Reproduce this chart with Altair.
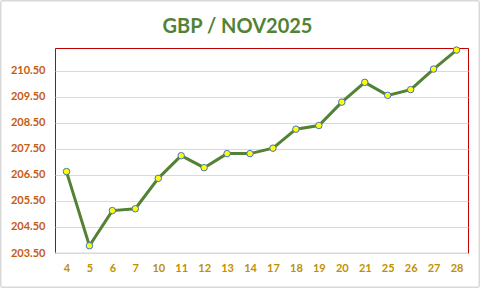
import altair as alt
import pandas as pd

days = ["4", "5", "6", "7", "10", "11", "12", "13", "14", "17", "18", "19",
        "20", "21", "25", "26", "27", "28"]
rates = [206.63, 203.78, 205.13, 205.20, 206.37, 207.24, 206.78, 207.32, 207.32,
         207.53, 208.26, 208.40, 209.30, 210.06, 209.56, 209.78, 210.57, 211.30]
y_ticks = [203.5, 204.5, 205.5, 206.5, 207.5, 208.5, 209.5, 210.5]
title_text = "GBP / NOV2025"

df = pd.DataFrame({"day": days, "rate": rates})

FONT = "Lato"
W, H = 413, 205

x_enc = alt.X("day:N", sort=days, title=None,
              scale=alt.Scale(paddingInner=1, paddingOuter=0.5),
              axis=alt.Axis(labelAngle=0, labelColor="#BF9000", labelFont=FONT,
                            labelFontWeight="bold", labelFontSize=11,
                            labelPadding=9, ticks=False, domain=False, grid=False))
y_enc = alt.Y("rate:Q", title=None,
              scale=alt.Scale(domain=[203.5, 211.38], nice=False, zero=False),
              axis=alt.Axis(values=y_ticks, format=".2f", labelColor="#C55A11",
                            labelFont=FONT, labelFontWeight="bold", labelFontSize=11,
                            labelPadding=10, ticks=False, domain=False,
                            gridColor="#D9D9D9", gridWidth=1))

base = alt.Chart(df).encode(x=x_enc, y=y_enc)

line = base.mark_line(color="#548235", strokeWidth=3)
pts = base.mark_point(filled=True, fill="#FFFF00", stroke="#4472C4",
                      strokeWidth=1, size=42, opacity=1)

one = pd.DataFrame({"t": [title_text]})

bottom = alt.Chart(one).mark_rule(color="#D9D9D9", strokeWidth=1).encode(
    y=alt.value(H), x=alt.value(0), x2=alt.value(W))

frame = alt.Chart(one).mark_rect(fill=None, stroke="#D9D9D9", strokeWidth=1.5,
                                 cornerRadius=2).encode(
    x=alt.value(-54.25), x2=alt.value(W + 11.25),
    y=alt.value(-47.25), y2=alt.value(H + 34.25))

title = alt.Chart(one).mark_text(font=FONT, fontSize=20, fontWeight="bold",
                                 color="#548235", align="center",
                                 baseline="alphabetic").encode(
    text="t:N", x=alt.value(182.5), y=alt.value(-15))

chart = alt.layer(frame, bottom, line, pts, title).properties(
    width=W, height=H,
    autosize=alt.AutoSizeParams(type="none"),
    padding={"left": 55, "top": 48, "right": 12, "bottom": 35},
    background="white",
).configure_view(stroke="#C00000", strokeWidth=1)

chart.save("out.html", embed_options={"renderer": "svg", "actions": False})
